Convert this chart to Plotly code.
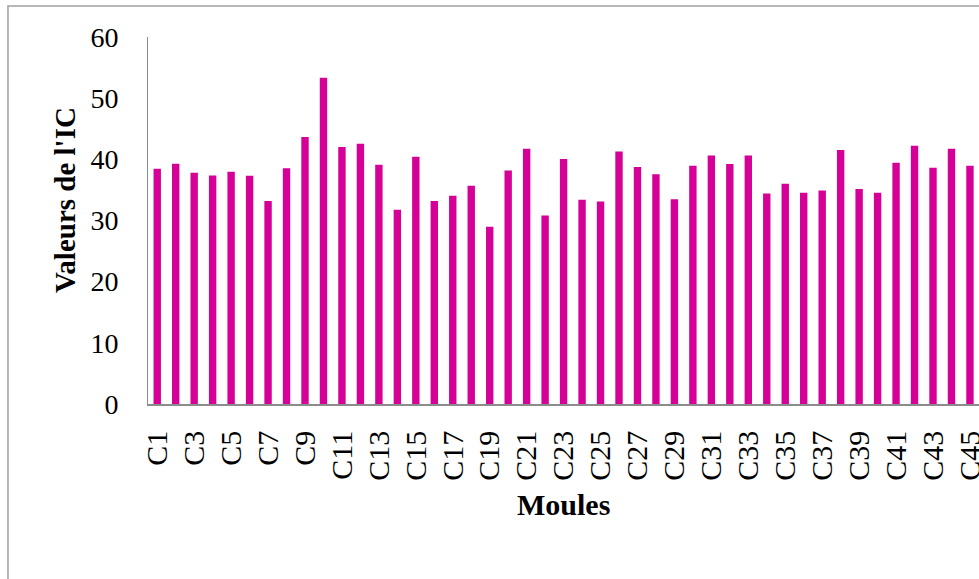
import plotly.graph_objects as go

# Condition index (IC) per mussel sample
moules = [f"C{i}" for i in range(1, 46)]
valeurs_ic = [
    38.45, 39.27, 37.8, 37.36, 37.96, 37.31, 33.2, 38.56, 43.64, 53.35,
    42.0, 42.55, 39.1, 31.75, 40.42, 33.2, 34.04, 35.67, 28.96, 38.18,
    41.73, 30.82, 40.04, 33.38, 33.11, 41.29, 38.73, 37.58, 33.49, 38.95,
    40.64, 39.22, 40.64, 34.42, 36.0, 34.53, 34.91, 41.51, 35.13, 34.53,
    39.44, 42.22, 38.62, 41.73, 38.95,
]
y_ticks = [0, 10, 20, 30, 40, 50, 60]
x_tick_labels = moules[::2]

FONT = "Liberation Serif"
BAR_COLOR = "#D50096"
AXIS_GREY = "#8C8C8C"

fig = go.Figure(
    go.Bar(
        x=moules,
        y=valeurs_ic,
        marker=dict(color=BAR_COLOR, line=dict(width=0)),
    )
)

fig.update_layout(
    width=979,
    height=579,
    margin=dict(l=148, r=0, t=37, b=175),
    paper_bgcolor="white",
    plot_bgcolor="white",
    showlegend=False,
    bargap=0.6,
    font=dict(family=FONT, color="black"),
)

fig.update_xaxes(
    type="category",
    range=[-0.5, 44.49],
    automargin=False,
    tickmode="array",
    tickvals=x_tick_labels,
    ticktext=x_tick_labels,
    tickangle=-90,
    tickfont=dict(family=FONT, size=30, color="black"),
    ticks="outside",
    ticklen=0,
    ticklabelstandoff=13,
    showline=True,
    linecolor=AXIS_GREY,
    linewidth=1.5,
    showgrid=False,
    zeroline=False,
)

fig.update_yaxes(
    range=[0, 60],
    automargin=False,
    tickmode="array",
    tickvals=y_ticks,
    tickfont=dict(family=FONT, size=28, color="black"),
    ticks="outside",
    ticklen=0,
    ticklabelstandoff=23,
    showline=True,
    linecolor=AXIS_GREY,
    linewidth=1,
    showgrid=False,
    zeroline=False,
)

# Axis titles
fig.add_annotation(
    text="<b>Valeurs de l'IC</b>",
    xref="paper", yref="paper",
    x=-0.0999, y=0.556,
    textangle=-90,
    showarrow=False,
    font=dict(family=FONT, size=29, color="black"),
    xanchor="center", yanchor="middle",
)
fig.add_annotation(
    text="<b>Moules</b>",
    xref="paper", yref="paper",
    x=0.5, y=-0.275,
    showarrow=False,
    font=dict(family=FONT, size=30, color="black"),
    xanchor="center", yanchor="middle",
)

# Chart area border
fig.add_shape(
    type="rect",
    xref="paper", yref="paper",
    x0=-0.1685, y0=-1.0, x1=1.2, y1=1.0845,
    line=dict(color="#A0A0A0", width=1.5),
    fillcolor="rgba(0,0,0,0)",
    layer="below",
)

fig.write_html("out.html")
